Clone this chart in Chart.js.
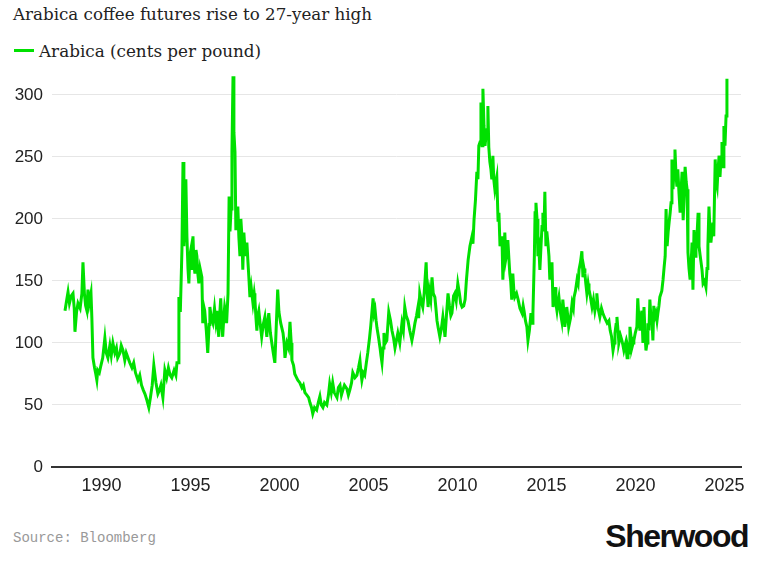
<!DOCTYPE html>
<html>
<head>
<meta charset="utf-8">
<script src="https://cdn.jsdelivr.net/npm/chart.js@4.4.1/dist/chart.umd.min.js"></script>
<style>
  html, body { margin: 0; padding: 0; background: #fff; }
  body { width: 760px; height: 573px; position: relative; overflow: hidden; }
  #title { position: absolute; left: 13px; top: 4px; font: 16.7px "DejaVu Serif", serif; color: #222; white-space: nowrap; }
  #legend { position: absolute; left: 14px; top: 41px; font: 16.8px "DejaVu Serif", serif; color: #222; white-space: nowrap; }
  #legend span.swatch { display: inline-block; width: 20px; height: 3px; background: #00e000; vertical-align: middle; margin-right: 5px; position: relative; top: -2px; }
  #wrap { position: absolute; left: 0; top: 0; width: 760px; height: 501px; }
  #source { position: absolute; left: 13px; top: 530px; font: 14px "Liberation Mono", monospace; color: #999; }
  #logo { position: absolute; right: 12px; top: 518px; font: bold 32px "Liberation Sans", Arial, sans-serif; letter-spacing: -1.5px; color: #111; }
</style>
</head>
<body>
<div id="title">Arabica coffee futures rise to 27-year high</div>
<div id="legend"><span class="swatch"></span>Arabica (cents per pound)</div>
<div id="wrap"><canvas id="chart"></canvas></div>
<div id="source">Source: Bloomberg</div>
<div id="logo">Sherwood</div>
<script>
const seriesLabel = 'Arabica (cents per pound)';

// weekly-ish readings, decimal years
const years = [
    1987.95, 1988.05, 1988.12, 1988.20, 1988.30, 1988.40, 1988.47, 1988.51, 1988.60, 1988.68, 1988.80, 1988.90,
    1988.96, 1989.04, 1989.11, 1989.18, 1989.24, 1989.31, 1989.41, 1989.46, 1989.52, 1989.61, 1989.68, 1989.74, 1989.79, 1989.88,
    1989.97, 1990.07, 1990.19, 1990.27, 1990.36, 1990.47, 1990.55, 1990.64, 1990.75, 1990.84, 1990.91,
    1991.04, 1991.11, 1991.21, 1991.31, 1991.39, 1991.49, 1991.59, 1991.71, 1991.81, 1991.91,
    1992.05, 1992.15, 1992.25, 1992.35, 1992.44, 1992.55, 1992.66, 1992.75, 1992.85, 1992.94,
    1993.06, 1993.17, 1993.26, 1993.34, 1993.45, 1993.56, 1993.66, 1993.76, 1993.86, 1993.95,
    1994.08, 1994.18, 1994.24, 1994.30, 1994.35, 1994.43, 1994.52, 1994.58, 1994.63, 1994.69, 1994.74, 1994.80, 1994.86, 1994.91, 1994.96, 1995.02,
    1995.09, 1995.14, 1995.19, 1995.25, 1995.31, 1995.36, 1995.42, 1995.47, 1995.54, 1995.64, 1995.69, 1995.74, 1995.80, 1995.89, 1995.97,
    1996.05, 1996.09, 1996.17, 1996.26, 1996.35, 1996.42, 1996.48, 1996.54, 1996.59, 1996.65, 1996.70, 1996.75, 1996.81, 1996.87, 1996.92, 1996.98, 1997.03,
    1997.11, 1997.17, 1997.22, 1997.28, 1997.33, 1997.39, 1997.44, 1997.50, 1997.55, 1997.61, 1997.66, 1997.72, 1997.78, 1997.83, 1997.89, 1997.94, 1998.00,
    1998.08, 1998.17, 1998.23, 1998.28, 1998.34, 1998.41, 1998.51, 1998.58, 1998.62, 1998.68, 1998.73, 1998.78, 1998.84, 1998.92, 1999.00,
    1999.09, 1999.18, 1999.24, 1999.29, 1999.35, 1999.40, 1999.49, 1999.57, 1999.65, 1999.74, 1999.81, 1999.90, 1999.97, 2000.07,
    2000.20, 2000.26, 2000.31, 2000.42, 2000.51, 2000.59, 2000.66, 2000.70, 2000.79, 2000.86, 2000.96, 2001.03,
    2001.14, 2001.26, 2001.34, 2001.43, 2001.54, 2001.64, 2001.71, 2001.80, 2001.87, 2001.97, 2002.09,
    2002.18, 2002.27, 2002.35, 2002.44, 2002.53, 2002.66, 2002.75, 2002.82, 2002.91, 2002.99, 2003.08,
    2003.23, 2003.31, 2003.40, 2003.48, 2003.56, 2003.65, 2003.79, 2003.87, 2003.95, 2004.05, 2004.12,
    2004.24, 2004.35, 2004.44, 2004.52, 2004.58, 2004.63, 2004.71, 2004.79, 2004.88, 2004.96, 2005.06, 2005.13,
    2005.26, 2005.32, 2005.37, 2005.43, 2005.48, 2005.56, 2005.65, 2005.70, 2005.76, 2005.82, 2005.87, 2005.95, 2006.03, 2006.14,
    2006.24, 2006.32, 2006.41, 2006.49, 2006.57, 2006.65, 2006.76, 2006.88, 2006.96, 2007.04, 2007.12,
    2007.22, 2007.32, 2007.44, 2007.52, 2007.61, 2007.70, 2007.77, 2007.82, 2007.88, 2007.96, 2008.05, 2008.13,
    2008.24, 2008.30, 2008.35, 2008.42, 2008.50, 2008.57, 2008.64, 2008.73, 2008.79, 2008.85, 2008.92, 2009.01, 2009.10, 2009.18,
    2009.25, 2009.30, 2009.38, 2009.47, 2009.55, 2009.63, 2009.69, 2009.78, 2009.85, 2009.93, 2010.02, 2010.11, 2010.18,
    2010.26, 2010.35, 2010.43, 2010.50, 2010.60, 2010.70, 2010.82, 2010.87, 2010.93, 2011.01, 2011.09, 2011.15, 2011.20,
    2011.27, 2011.32, 2011.38, 2011.43, 2011.49, 2011.55, 2011.61, 2011.66, 2011.71, 2011.76, 2011.82, 2011.88, 2011.93, 2011.99, 2012.04, 2012.10, 2012.16, 2012.21,
    2012.28, 2012.33, 2012.39, 2012.45, 2012.50, 2012.55, 2012.61, 2012.66, 2012.72, 2012.78, 2012.83, 2012.89, 2012.94, 2012.99, 2013.05, 2013.11, 2013.17, 2013.22,
    2013.32, 2013.41, 2013.51, 2013.63, 2013.69, 2013.74, 2013.82, 2013.90, 2013.96, 2014.04, 2014.13, 2014.19, 2014.24,
    2014.32, 2014.36, 2014.41, 2014.47, 2014.52, 2014.58, 2014.63, 2014.70, 2014.75, 2014.80, 2014.86, 2014.91, 2014.97, 2015.02, 2015.08, 2015.14, 2015.19, 2015.25,
    2015.31, 2015.37, 2015.43, 2015.48, 2015.53, 2015.59, 2015.64, 2015.70, 2015.78, 2015.86, 2015.92, 2015.98, 2016.03, 2016.09, 2016.14, 2016.21, 2016.25,
    2016.35, 2016.44, 2016.51, 2016.55, 2016.63, 2016.72, 2016.78, 2016.83, 2016.91, 2016.99, 2017.05, 2017.11, 2017.16, 2017.21, 2017.27,
    2017.34, 2017.39, 2017.46, 2017.56, 2017.64, 2017.72, 2017.79, 2017.83, 2017.90, 2018.00, 2018.09, 2018.17, 2018.28,
    2018.41, 2018.51, 2018.58, 2018.66, 2018.74, 2018.81, 2018.85, 2018.91, 2018.96, 2019.02, 2019.07, 2019.16, 2019.24, 2019.30, 2019.35,
    2019.45, 2019.53, 2019.58, 2019.64, 2019.69, 2019.75, 2019.80, 2019.87, 2019.91, 2019.99, 2020.08, 2020.13, 2020.19, 2020.25, 2020.31, 2020.36,
    2020.42, 2020.48, 2020.53, 2020.59, 2020.65, 2020.70, 2020.76, 2020.81, 2020.88, 2020.92, 2020.98, 2021.03, 2021.09, 2021.15, 2021.21, 2021.26, 2021.32, 2021.37,
    2021.48, 2021.55, 2021.61, 2021.67, 2021.72, 2021.78, 2021.84, 2021.89, 2021.95, 2022.00, 2022.05, 2022.11, 2022.17, 2022.22, 2022.28, 2022.33, 2022.38,
    2022.45, 2022.51, 2022.57, 2022.62, 2022.68, 2022.74, 2022.79, 2022.85, 2022.90, 2022.95, 2023.01, 2023.07, 2023.13, 2023.18, 2023.23, 2023.29, 2023.35, 2023.40,
    2023.47, 2023.52, 2023.57, 2023.64, 2023.74, 2023.80, 2023.88, 2023.96, 2024.02, 2024.07, 2024.13, 2024.19, 2024.24, 2024.30, 2024.35, 2024.40,
    2024.48, 2024.54, 2024.59, 2024.64, 2024.70, 2024.75, 2024.81, 2024.86, 2024.92, 2024.97, 2025.03, 2025.09, 2025.14
];

const prices = [
    126, 135, 141, 132, 138, 140, 128, 109, 125, 132, 128, 140,
    165, 140, 130, 126, 143, 132, 140, 120, 88, 80, 75, 70, 78, 76,
    82, 88, 104, 92, 88, 98, 90, 100, 92, 96, 88,
    92, 98, 94, 86, 92, 88, 84, 80, 84, 76,
    70, 74, 66, 62, 59, 54, 48, 56, 66, 82,
    68, 59, 62, 66, 56, 78, 72, 80, 74, 72,
    78, 74, 84, 84, 137, 125, 175, 246, 178, 200, 232, 186, 160, 148, 170, 175,
    160, 186, 165, 156, 175, 170, 155, 148, 160, 153, 116, 130, 126, 110, 92,
    115, 129, 120, 116, 128, 118, 126, 112, 105, 125, 136, 118, 105, 120, 129, 124, 116,
    140, 218, 190, 208, 254, 315, 270, 254, 191, 200, 210, 185, 170, 200, 186, 159, 189,
    170, 181, 165, 153, 137, 145, 132, 140, 135, 120, 110, 122, 126, 115, 105,
    115, 121, 112, 105, 118, 124, 108, 100, 92, 84, 110, 143, 125, 116,
    108, 100, 88, 100, 96, 117, 100, 86, 82, 75, 72, 70,
    68, 64, 66, 60, 58, 56, 52, 48, 43, 48, 46,
    52, 57, 50, 48, 52, 50, 58, 67, 60, 68, 60,
    56, 64, 66, 58, 62, 66, 63, 58, 62, 68, 76,
    72, 74, 80, 86, 76, 70, 76, 74, 84, 92, 104, 114,
    136, 124, 127, 118, 112, 105, 96, 90, 84, 96, 108, 100, 102, 125,
    118, 110, 104, 96, 102, 108, 100, 116, 110, 129, 122,
    118, 110, 102, 108, 116, 122, 128, 120, 140, 134, 129, 140,
    165, 140, 129, 142, 135, 153, 140, 137, 128, 118, 112, 105, 112, 121,
    112, 105, 122, 140, 130, 122, 124, 138, 140, 134, 148, 140, 132,
    129, 130, 135, 150, 167, 178, 186, 180, 199, 215, 238, 232, 259,
    262, 294, 259, 305, 275, 259, 268, 272, 291, 258, 246, 240, 232, 251, 232, 224, 230, 234,
    199, 205, 178, 184, 186, 151, 170, 189, 168, 173, 183, 168, 156, 150, 135, 156, 142, 137,
    140, 135, 128, 124, 130, 126, 118, 113, 102, 110, 124, 116, 124,
    170, 205, 213, 200, 170, 175, 159, 180, 194, 205, 190, 222, 178, 190, 181, 170, 151, 160,
    165, 129, 140, 145, 132, 126, 132, 137, 125, 118, 135, 125, 113, 120, 129, 120, 113,
    120, 132, 128, 137, 142, 151, 148, 159, 165, 174, 153, 160, 156, 148, 140,
    148, 143, 138, 129, 135, 126, 132, 140, 128, 121, 128, 124, 120,
    116, 118, 110, 105, 94, 100, 108, 115, 121, 110, 100, 106, 102, 98, 94,
    100, 88, 96, 92, 113, 105, 96, 100, 102, 108, 113, 136, 120, 110, 121, 126,
    100, 129, 110, 94, 100, 116, 110, 135, 118, 121, 102, 130, 121, 124, 118, 124, 130, 137,
    142, 151, 161, 170, 208, 178, 190, 197, 205, 213, 248, 224, 240, 256, 235, 226, 240,
    220, 205, 225, 238, 199, 220, 242, 230, 224, 173, 160, 151, 165, 181, 143, 191, 170, 175,
    190, 205, 178, 170, 159, 148, 150, 145, 160, 178, 210, 190, 181, 190, 197, 186,
    248, 230, 226, 240, 251, 234, 250, 262, 242, 275, 259, 283, 313
];

const xTicks = [1990, 1995, 2000, 2005, 2010, 2015, 2020, 2025];
const yTicks = [0, 50, 100, 150, 200, 250, 300];

const points = years.map((yr, i) => ({ x: yr, y: prices[i] }));
const fontFamily = '"Liberation Sans", Arial, sans-serif';

new Chart(document.getElementById('chart'), {
    type: 'line',
    data: {
        datasets: [{
            label: seriesLabel,
            data: points,
            borderColor: '#00e000',
            borderWidth: 3,
            pointRadius: 0,
            tension: 0,
            fill: false
        }]
    },
    options: {
        responsive: true,
        maintainAspectRatio: false,
        animation: false,
        layout: { padding: { top: 72, right: 19, left: 0, bottom: 0 } },
        plugins: { legend: { display: false }, tooltip: { enabled: false } },
        scales: {
            x: {
                type: 'linear',
                min: 1987.22,
                max: 2025.93,
                afterBuildTicks: function (scale) {
                    scale.ticks = xTicks.map(v => ({ value: v }));
                },
                afterFit: function (scale) { scale.height = 34; },
                ticks: {
                    autoSkip: false,
                    maxRotation: 0,
                    padding: 8,
                    color: '#222',
                    font: { family: fontFamily, size: 18 },
                    callback: v => String(v)
                },
                grid: { display: false, drawTicks: false },
                border: { display: true, color: '#333', width: 2 }
            },
            y: {
                min: 0,
                max: 318.5,
                afterBuildTicks: function (scale) {
                    scale.ticks = yTicks.map(v => ({ value: v }));
                },
                afterFit: function (scale) { scale.width = 52; },
                ticks: { padding: 9, color: '#222', font: { family: fontFamily, size: 17 } },
                grid: { color: '#e6e6e6', lineWidth: 1, drawTicks: false },
                border: { display: false }
            }
        }
    }
});
</script>
</body>
</html>
